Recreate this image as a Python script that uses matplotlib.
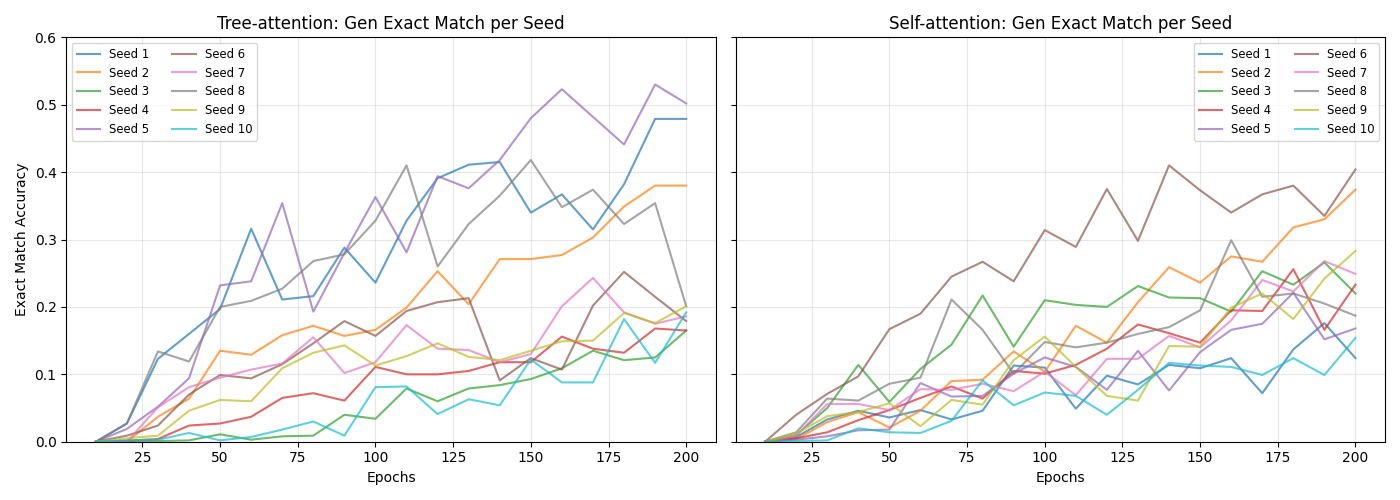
import matplotlib
matplotlib.use("Agg")
import matplotlib.pyplot as plt

epochs = list(range(10, 201, 10))
seed_labels = [f"Seed {i}" for i in range(1, 11)]

tree_seeds = [
    [0, 0.027, 0.123, 0.160, 0.197, 0.316, 0.211, 0.216, 0.288, 0.236, 0.328, 0.391, 0.411, 0.415, 0.340, 0.367, 0.315, 0.382, 0.479, 0.479],
    [0, 0.0, 0.037, 0.064, 0.135, 0.129, 0.158, 0.172, 0.157, 0.166, 0.199, 0.253, 0.204, 0.271, 0.271, 0.277, 0.303, 0.349, 0.380, 0.380],
    [0, 0.001, 0.001, 0.002, 0.011, 0.003, 0.008, 0.009, 0.040, 0.034, 0.079, 0.060, 0.079, 0.084, 0.093, 0.109, 0.135, 0.121, 0.125, 0.165],
    [0, 0.0015, 0.004, 0.024, 0.027, 0.037, 0.065, 0.072, 0.061, 0.111, 0.100, 0.100, 0.105, 0.118, 0.118, 0.156, 0.138, 0.132, 0.168, 0.165],
    [0, 0.019, 0.052, 0.094, 0.232, 0.238, 0.354, 0.193, 0.280, 0.363, 0.281, 0.394, 0.376, 0.418, 0.480, 0.523, 0.482, 0.441, 0.530, 0.502],
    [0, 0.009, 0.024, 0.070, 0.099, 0.094, 0.115, 0.146, 0.179, 0.157, 0.194, 0.207, 0.213, 0.091, 0.124, 0.107, 0.202, 0.252, 0.215, 0.179],
    [0, 0.0, 0.051, 0.081, 0.095, 0.107, 0.116, 0.155, 0.102, 0.118, 0.173, 0.138, 0.136, 0.118, 0.130, 0.201, 0.243, 0.192, 0.175, 0.186],
    [0, 0.027, 0.134, 0.119, 0.200, 0.209, 0.227, 0.268, 0.278, 0.328, 0.410, 0.260, 0.323, 0.365, 0.418, 0.348, 0.374, 0.323, 0.354, 0.201],
    [0, 0.005, 0.009, 0.046, 0.062, 0.060, 0.109, 0.132, 0.143, 0.113, 0.127, 0.146, 0.126, 0.121, 0.135, 0.149, 0.150, 0.191, 0.176, 0.201],
    [0, 0.002, 0.003, 0.013, 0.002, 0.007, 0.018, 0.030, 0.009, 0.081, 0.082, 0.041, 0.063, 0.054, 0.122, 0.088, 0.088, 0.182, 0.117, 0.192],
]

self_seeds = [
    [0, 0.007, 0.033, 0.046, 0.036, 0.047, 0.033, 0.046, 0.113, 0.110, 0.049, 0.098, 0.085, 0.114, 0.109, 0.124, 0.072, 0.137, 0.176, 0.124],
    [0, 0.004, 0.029, 0.044, 0.021, 0.046, 0.090, 0.092, 0.134, 0.104, 0.172, 0.147, 0.207, 0.259, 0.236, 0.275, 0.267, 0.318, 0.330, 0.374],
    [0, 0.010, 0.050, 0.114, 0.059, 0.108, 0.144, 0.217, 0.141, 0.210, 0.203, 0.200, 0.231, 0.214, 0.213, 0.193, 0.253, 0.233, 0.266, 0.220],
    [0, 0.005, 0.014, 0.032, 0.047, 0.065, 0.082, 0.064, 0.105, 0.101, 0.114, 0.138, 0.174, 0.161, 0.147, 0.195, 0.194, 0.256, 0.166, 0.233],
    [0, 0.003, 0.008, 0.017, 0.018, 0.087, 0.067, 0.068, 0.101, 0.125, 0.111, 0.077, 0.135, 0.076, 0.133, 0.166, 0.175, 0.221, 0.152, 0.168],
    [0, 0.040, 0.071, 0.097, 0.167, 0.190, 0.245, 0.267, 0.238, 0.314, 0.289, 0.375, 0.298, 0.410, 0.373, 0.340, 0.367, 0.380, 0.335, 0.404],
    [0, 0.009, 0.056, 0.056, 0.047, 0.078, 0.077, 0.086, 0.075, 0.104, 0.069, 0.123, 0.123, 0.157, 0.140, 0.180, 0.240, 0.223, 0.268, 0.249],
    [0, 0.014, 0.064, 0.061, 0.086, 0.095, 0.211, 0.166, 0.101, 0.148, 0.140, 0.147, 0.160, 0.170, 0.195, 0.299, 0.215, 0.220, 0.205, 0.187],
    [0, 0.012, 0.038, 0.044, 0.057, 0.023, 0.062, 0.055, 0.121, 0.156, 0.111, 0.068, 0.061, 0.142, 0.141, 0.199, 0.220, 0.182, 0.242, 0.283],
    [0, 0.001, 0.002, 0.020, 0.014, 0.013, 0.031, 0.091, 0.054, 0.073, 0.068, 0.040, 0.077, 0.117, 0.113, 0.111, 0.099, 0.124, 0.099, 0.154],
]

fig, axes = plt.subplots(1, 2, figsize=(14, 5), dpi=100, sharey=True)

panels = [
    (axes[0], tree_seeds, "Tree-attention: Gen Exact Match per Seed", "upper left"),
    (axes[1], self_seeds, "Self-attention: Gen Exact Match per Seed", "upper right"),
]
for ax, data, title, loc in panels:
    for label, vals in zip(seed_labels, data):
        ax.plot(epochs, vals, label=label, alpha=0.7, linewidth=1.5)
    ax.set_title(title)
    ax.set_xlabel("Epochs")
    ax.grid(True, alpha=0.3)
    ax.legend(ncol=2, fontsize="small", loc=loc)

axes[0].set_ylabel("Exact Match Accuracy")
axes[0].set_ylim(0, 0.6)

plt.tight_layout()
plt.savefig("out.png", dpi=100)
